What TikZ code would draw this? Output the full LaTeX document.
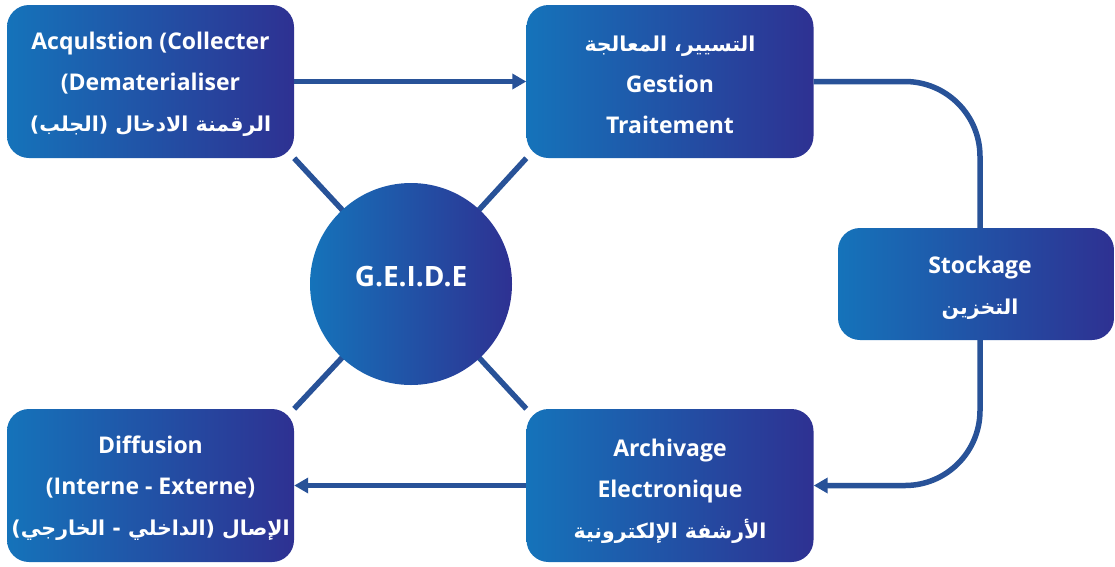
\documentclass[tikz,border=0pt]{standalone}
\usepackage{fontspec}
\setmainfont{Open Sans}
\newfontfamily\arabicfont[Script=Arabic]{DejaVu Sans}
\TeXXeTstate=1
\usetikzlibrary{arrows.meta,backgrounds}
\definecolor{gl}{RGB}{21,115,186}
\definecolor{gr}{RGB}{46,49,146}
\definecolor{ln}{RGB}{40,82,152}
\newcommand\artxt[1]{{\arabicfont\bfseries\fontsize{20.5}{41}\selectfont\beginR #1\endR}}
\begin{document}
\begin{tikzpicture}[x=1pt,y=-1pt,
  box/.style={rounded corners=22pt,minimum width=287pt,minimum height=153pt,
    left color=gl,right color=gr,inner sep=0pt},
  txt/.style={text=white,align=center,inner sep=0pt,
    font=\bfseries\fontsize{23}{41}\selectfont},
  conn/.style={draw=ln,line width=5.5pt},
  tip/.style={-{Triangle[length=14pt,width=15pt]}}]
\useasboundingbox (0,0) rectangle (1115,566);
\node[box] (A) at (150.5,81.5) {};
\node[box] (B) at (670,81.5) {};
\node[box,minimum width=276pt,minimum height=112pt] (C) at (976,284) {};
\node[box] (D) at (150.5,485.5) {};
\node[box] (E) at (670,485.5) {};
\node[txt] (At) at ([yshift=-3pt]A.center) {Acqulstion (Collecter\\(Dematerialiser\\\artxt{الرقمنة الادخال (الجلب)}};
\node[txt] (Bt) at ([yshift=-3pt]B.center) {\artxt{التسيير، المعالجة}\\Gestion\\Traitement};
\node[txt] (Ct) at ([xshift=4pt,yshift=-4pt]C.center) {Stockage\\\artxt{التخزين}};
\node[txt] (Dt) at ([yshift=-3pt]D.center) {Diffusion\\(Interne - Externe)\\\artxt{الإصال (الداخلي - الخارجي)}};
\node[txt] (Et) at ([yshift=-6pt]E.center) {Archivage\\Electronique\\\artxt{الأرشفة الإلكترونية}};
\node[circle,minimum size=202pt,left color=gl,right color=gr,inner sep=0pt] (G) at (411,284) {};
\node[txt,font=\bfseries\fontsize{28}{30}\selectfont] (Gt) at ([yshift=7pt]G.center) {G.E.I.D.E};
\begin{scope}[on background layer]
\draw[conn] (G.center) -- (A.south east);
\draw[conn] (G.center) -- (B.south west);
\draw[conn] (G.center) -- (D.north east);
\draw[conn] (G.center) -- (E.north west);
\end{scope}
\draw[conn,tip] (A.east) -- (B.west);
\draw[conn,tip] (E.west) -- (D.east);
\draw[conn,rounded corners=75pt] (B.east) -| ([xshift=4pt]C.north);
\draw[conn,rounded corners=75pt,tip] ([xshift=4pt]C.south) |- (E.east);
\end{tikzpicture}
\end{document}
